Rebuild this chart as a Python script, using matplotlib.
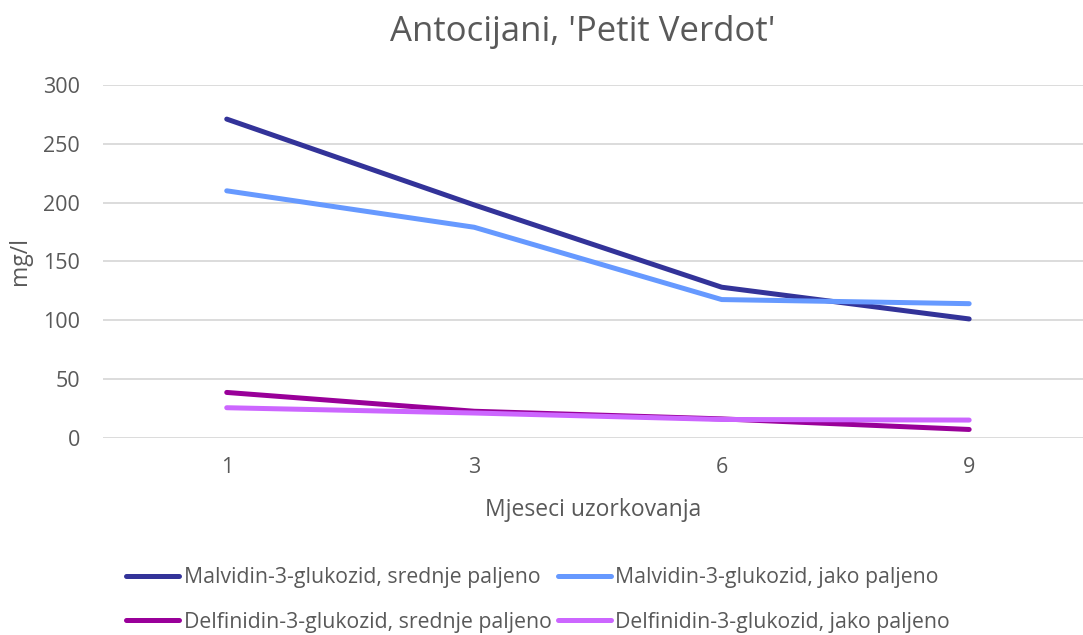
import matplotlib
matplotlib.use("Agg")
import matplotlib.pyplot as plt

# ===============================
# Data
# ===============================
months = ["1", "3", "6", "9"]
malv_srednje = [271, 198, 128, 101]
malv_jako = [210, 179, 117.5, 114]
delf_srednje = [38.5, 22.5, 16, 7]
delf_jako = [25.5, 21, 15.5, 15]

series_names = [
    "Malvidin-3-glukozid, srednje paljeno",
    "Malvidin-3-glukozid, jako paljeno",
    "Delfinidin-3-glukozid, srednje paljeno",
    "Delfinidin-3-glukozid, jako paljeno",
]
colors = ["#333399", "#6699FF", "#990099", "#CC66FF"]

TXT = "#595959"
plt.rcParams["font.family"] = ["Open Sans", "DejaVu Sans"]

# ===============================
# Figure
# ===============================
fig = plt.figure(figsize=(10.83, 6.35), dpi=100)
ax = fig.add_axes([103 / 1083, 1 - 437.7 / 635, 980 / 1083, (437.7 - 85) / 635])

x = list(range(len(months)))
lines = []
for vals, name, c in zip([malv_srednje, malv_jako, delf_srednje, delf_jako], series_names, colors):
    ln, = ax.plot(x, vals, color=c, lw=3.6, solid_capstyle="round", label=name)
    lines.append(ln)

ax.set_xlim(-0.5, 3.46)
ax.set_ylim(0, 300)
ax.set_yticks(range(0, 301, 50))
ax.set_xticks(x)
ax.set_xticklabels(months)
ax.grid(axis="y", color="#D9D9D9", lw=1.3)
ax.set_axisbelow(True)
for s in ax.spines.values():
    s.set_visible(False)
ax.tick_params(length=0, colors=TXT, labelsize=15.5)
ax.tick_params(axis="y", pad=16.5)
ax.tick_params(axis="x", pad=14)

ax.set_xlabel("Mjeseci uzorkovanja", color=TXT, fontsize=16.5, labelpad=14)
ax.set_ylabel("mg/l", color=TXT, fontsize=16.5, labelpad=8)
fig.text(583 / 1083, 1 - 32 / 635, "Antocijani, 'Petit Verdot'", color=TXT, fontsize=25,
         ha="center", va="center")

# legend is filled by columns, so order handles to get row-wise layout
order = [0, 2, 1, 3]
leg = fig.legend([lines[i] for i in order], [series_names[i] for i in order],
                 loc="center", bbox_to_anchor=(538 / 1083, 1 - 600 / 635), ncol=2, frameon=False,
                 fontsize=15.3, handlelength=2.5, handletextpad=0.2, columnspacing=0.3,
                 labelspacing=1.1, labelcolor=TXT)

fig.savefig("out.png", dpi=100)
